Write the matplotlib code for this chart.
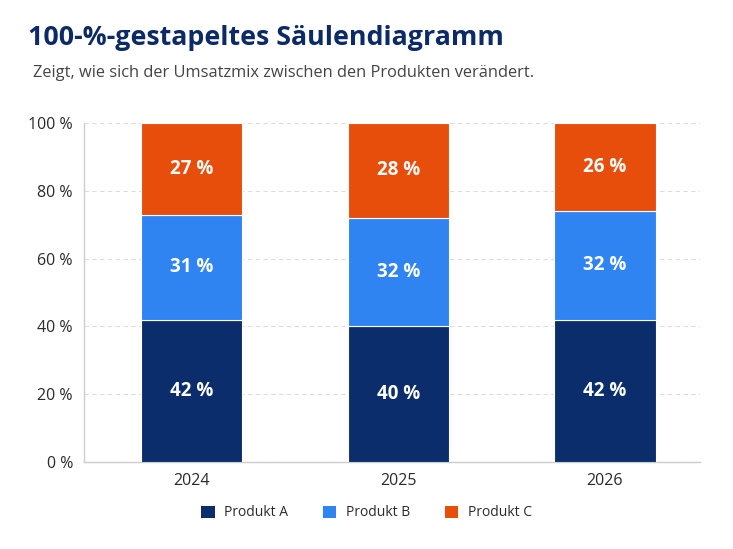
import numpy as np
import matplotlib
matplotlib.use('Agg')
import matplotlib.pyplot as plt
from matplotlib.patches import Patch

plt.rcParams['font.family'] = ['Open Sans', 'DejaVu Sans']

# data
years = ['2024', '2025', '2026']
produkt_a = [42, 40, 42]
produkt_b = [31, 32, 32]
produkt_c = [27, 28, 26]
series_names = ['Produkt A', 'Produkt B', 'Produkt C']
colors = ['#0B2D6B', '#2F84F2', '#E84E0B']

fig = plt.figure(figsize=(7.33, 5.49), dpi=100)
ax = fig.add_axes([84/733, 1-462/549, 616/733, 339/549])

x = np.arange(len(years))
bottom = np.zeros(len(years))
for vals, name, col in zip([produkt_a, produkt_b, produkt_c], series_names, colors):
    vals = np.array(vals, dtype=float)
    ax.bar(x, vals, width=0.49, bottom=bottom, color=col, edgecolor='white',
           linewidth=0.8, label=name, zorder=3)
    for xi, b, v in zip(x, bottom, vals):
        ax.text(xi, b + v/2, '%d %%' % v, ha='center', va='center', color='white',
                fontsize=13.5, fontweight='bold', zorder=4)
    bottom += vals

ax.set_xlim(-0.52, 2.46)
ax.set_ylim(0, 100)
ax.set_yticks([0, 20, 40, 60, 80, 100])
ax.set_yticklabels(['%d %%' % t for t in [0, 20, 40, 60, 80, 100]])
ax.set_xticks(x)
ax.set_xticklabels(years)
ax.tick_params(axis='both', length=0, labelsize=11.5, colors='#2a2a2a', pad=8)
ax.grid(axis='y', color='#dddddd', linestyle=(0, (4, 3)), linewidth=0.8, zorder=0)
for s in ['top', 'right']:
    ax.spines[s].set_visible(False)
for s in ['left', 'bottom']:
    ax.spines[s].set_color('#cccccc')
    ax.spines[s].set_linewidth(1.0)

handles = [Patch(facecolor=c, label=n) for c, n in zip(colors, series_names)]
fig.legend(handles=handles, loc='center', bbox_to_anchor=(0.5, 1-513/549), ncol=3,
           frameon=False, fontsize=10, handlelength=0.95, handleheight=0.95,
           columnspacing=2.5, handletextpad=0.7, labelcolor='#2a2a2a')

fig.text(28/733, 1-38/549, '100-%-gestapeltes Säulendiagramm', fontsize=19.3,
         fontweight='bold', color='#0B2A66', va='center', ha='left')
fig.text(33/733, 1-73/549, 'Zeigt, wie sich der Umsatzmix zwischen den Produkten verändert.',
         fontsize=11.8, color='#444444', va='center', ha='left')

fig.savefig('out.png', dpi=100, facecolor='white')
